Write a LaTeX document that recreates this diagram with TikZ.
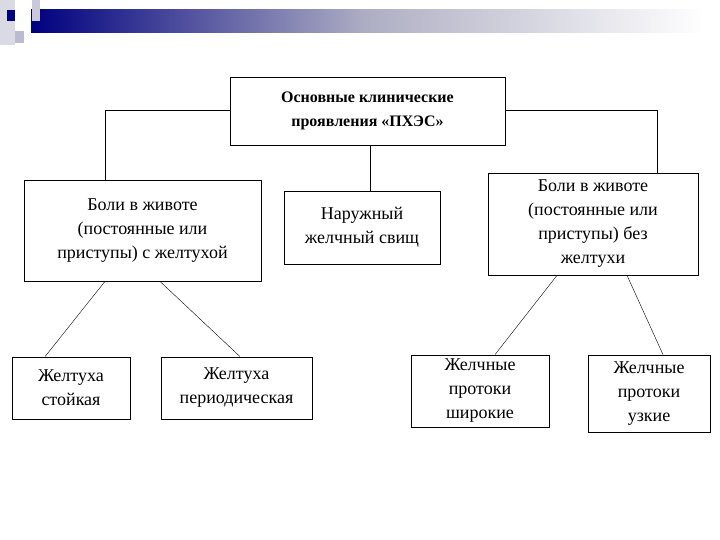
\documentclass[tikz,border=0pt]{standalone}
\usepackage{fontspec}
\setmainfont{Liberation Serif}
\begin{document}
\begin{tikzpicture}[x=1pt,y=-1pt,
  bx/.style={draw,thick,fill=white,align=center,inner sep=0pt,font=\fontsize{18}{24}\selectfont},
  ln/.style={draw,thin}]
\useasboundingbox (0,0) rectangle (720,540);
\shade[left color=blue!50!black, right color=white, middle color=blue!15!gray!55] (31,10) rectangle (705,33);
\fill[blue!15!gray!25] (0,0) rectangle (15,45);
\fill[blue!20!gray!35] (32,0) rectangle (40,21);
\fill[blue!20!gray!45] (15,31) rectangle (24,43);
\fill[blue!50!black] (7,10) rectangle (15,21);
\node[bx,minimum width=275,minimum height=68,font=\bfseries\fontsize{16}{24}\selectfont] (top) at (367.5,111) {Основные клинические\\проявления «ПХЭС»};
\node[bx,minimum width=237,minimum height=101] (L) at (142.5,230.5) {Боли в животе\\(постоянные или\\приступы) с желтухой};
\node[bx,minimum width=156,minimum height=73] (C) at (362,227.5) {Наружный\\желчный свищ};
\node[bx,minimum width=210,minimum height=102] (R) at (593,224) {Боли в животе\\(постоянные или\\приступы) без\\желтухи};
\node[bx,minimum width=118,minimum height=62] (B1) at (71,388) {Желтуха\\стойкая};
\node[bx,minimum width=151,minimum height=62] (B2) at (236.5,388) {Желтуха\\периодическая};
\node[bx,minimum width=138,minimum height=72] (B3) at (480,391) {Желчные\\протоки\\широкие};
\node[bx,minimum width=122,minimum height=77] (B4) at (649,393.5) {Желчные\\протоки\\узкие};
\draw[ln] (top.west |- 0,110) -| (L.north -| 105,0);
\draw[ln] (top.east |- 0,110) -| (R.north -| 657,0);
\draw[ln] (top.south -| 370,0) -- (C.north -| 370,0);
\draw[ln] (L.south -| 105,0) -- (B1.north -| 45,0);
\draw[ln] (L.south -| 160,0) -- (B2.north -| 240,0);
\draw[ln] (R.south -| 557,0) -- (B3.north -| 495,0);
\draw[ln] (R.south -| 627,0) -- (B4.north -| 663,0);
\end{tikzpicture}
\end{document}
